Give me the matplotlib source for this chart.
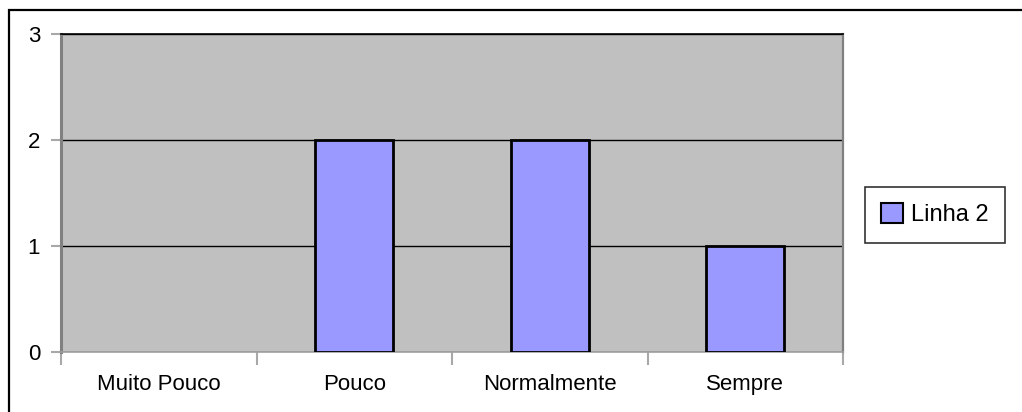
import matplotlib.pyplot as plt
from matplotlib.patches import Rectangle

plt.rcParams['font.family'] = ['Liberation Sans', 'DejaVu Sans']

categorias = ['Muito Pouco', 'Pouco', 'Normalmente', 'Sempre']
linha2 = [0, 2, 2, 1]
nome_serie = 'Linha 2'

W, H = 1022, 412
fig = plt.figure(figsize=(W / 100, H / 100), dpi=100)
fig.patch.set_facecolor('white')

# moldura externa (so topo e esquerda aparecem)
fig.patches.append(Rectangle((9 / W, -0.1), 1.2, (H - 10) / H + 0.1,
                             transform=fig.transFigure, fill=False,
                             edgecolor='black', linewidth=1.6))

ax = fig.add_axes([61 / W, (H - 352) / H, (843 - 61) / W, (352 - 34) / H])
ax.set_facecolor('#C0C0C0')

x = list(range(len(categorias)))
bordas = ['black' if v else 'none' for v in linha2]
ax.bar(x, linha2, width=0.4, color='#9999FF', edgecolor=bordas,
       linewidth=2, zorder=3, label=nome_serie)

ax.set_xlim(-0.5, len(categorias) - 0.5)
ax.set_ylim(0, 3)
ax.set_yticks([0, 1, 2, 3])
ax.yaxis.grid(True, color='black', linewidth=1)
ax.set_axisbelow(True)

# ticks do eixo x nas divisas das categorias, rotulos no centro
ax.set_xticks([i - 0.5 for i in range(len(categorias) + 1)])
ax.set_xticklabels([])
ax.set_xticks(x, minor=True)
ax.set_xticklabels(categorias, minor=True)
ax.tick_params(axis='x', which='major', direction='out', length=9,
               width=1.5, color='#A8A8A8')
ax.tick_params(axis='x', which='minor', length=0, pad=16, labelsize=16)
ax.tick_params(axis='y', direction='out', length=7, width=1.5,
               color='#A8A8A8', pad=8, labelsize=16)

ax.spines['left'].set_color('#808080')
ax.spines['left'].set_linewidth(2.2)
ax.spines['right'].set_color('#808080')
ax.spines['right'].set_linewidth(1.6)
ax.spines['bottom'].set_color('#A0A0A0')
ax.spines['bottom'].set_linewidth(1.2)
ax.spines['top'].set_color('black')
ax.spines['top'].set_linewidth(1.2)

leg = fig.legend(loc='center', bbox_to_anchor=(935 / W, 1 - 214.5 / H),
                 fontsize=17, frameon=True, fancybox=False, shadow=False,
                 handlelength=0.9, handleheight=0.9, handletextpad=0.35,
                 borderpad=0.7, borderaxespad=0)
leg.get_frame().set_edgecolor('black')
leg.get_frame().set_linewidth(1.2)
leg.legend_handles[0].set_edgecolor('black')
leg.legend_handles[0].set_linewidth(1.5)

fig.savefig('out.png', dpi=100)
